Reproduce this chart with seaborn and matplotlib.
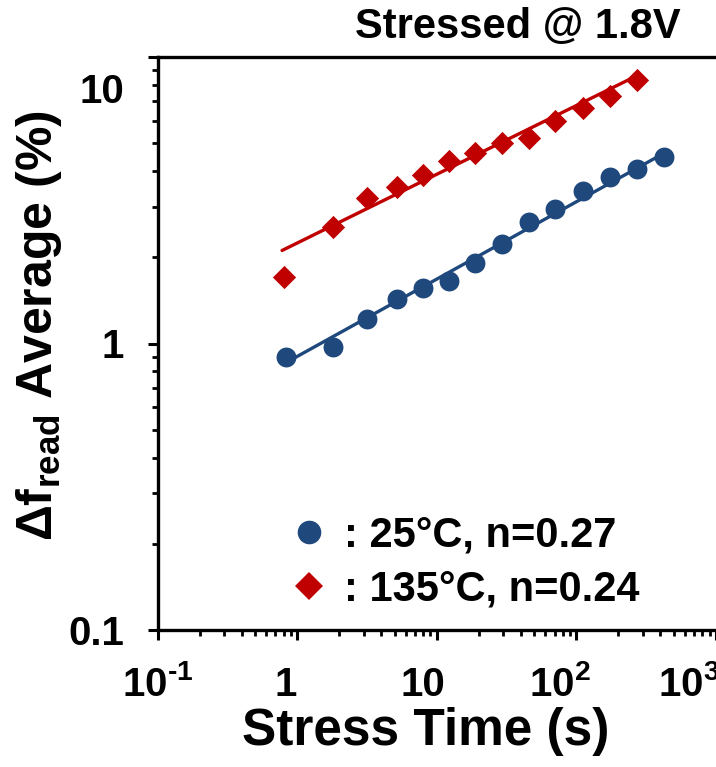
import numpy as np
import pandas as pd
import seaborn as sns
import matplotlib
matplotlib.use("Agg")
import matplotlib.pyplot as plt
from matplotlib.lines import Line2D
from matplotlib.transforms import ScaledTranslation
from matplotlib.ticker import FixedLocator, FixedFormatter, LogLocator, NullFormatter

# ---------------- data ----------------
time_25 = [0.83, 1.82, 3.19, 5.15, 8.0, 12.3, 18.9, 29.1, 45.5, 70.7, 111, 174, 272, 425]
delta_25 = [0.90, 0.975, 1.215, 1.43, 1.56, 1.65, 1.91, 2.23, 2.65, 2.94, 3.42, 3.82, 4.06, 4.49]
time_135 = [0.80, 1.82, 3.19, 5.15, 8.0, 12.3, 18.9, 29.1, 45.5, 70.7, 111, 174, 272]
delta_135 = [1.70, 2.56, 3.21, 3.53, 3.87, 4.35, 4.61, 5.02, 5.20, 5.98, 6.65, 7.31, 8.31]
n_25 = 0.27
n_135 = 0.24
labels = [": 25°C, n=0.27", ": 135°C, n=0.24"]
x_ticks = [0.1, 1, 10, 100, 1000]
x_ticklabels = ["$\\mathbf{10^{\u20101}}$", "1", "10", r"$\mathbf{10^{2}}$", r"$\mathbf{10^{3}}$"]
y_ticks = [0.1, 1, 10]
y_ticklabels = ["0.1", "1", "10"]
title = "Stressed @ 1.8V"

BLUE = "#1F497D"
RED = "#C00000"

sns.set_style("ticks")
plt.rcParams["font.family"] = ["Liberation Sans", "DejaVu Sans"]
plt.rcParams["font.weight"] = "bold"
plt.rcParams["mathtext.fontset"] = "custom"
plt.rcParams["mathtext.rm"] = "Liberation Sans:bold"
plt.rcParams["mathtext.bf"] = "Liberation Sans:bold"
plt.rcParams["mathtext.it"] = "Liberation Sans:bold"
plt.rcParams["mathtext.default"] = "bf"
for k in ["text.color", "axes.labelcolor", "xtick.color", "ytick.color",
          "xtick.labelcolor", "ytick.labelcolor", "axes.edgecolor"]:
    plt.rcParams[k] = "black"

df = pd.concat([
    pd.DataFrame({"t": time_25, "d": delta_25, "grp": "25"}),
    pd.DataFrame({"t": time_135, "d": delta_135, "grp": "135"}),
], ignore_index=True)


# power-law fit d = A * t^n with the exponent n from the legend
def fit_line(t_fit, d_fit, n, t_draw):
    lt = np.log10(t_fit)
    ld = np.log10(d_fit)
    b = np.mean(ld - n * lt)
    tt = np.array(t_draw, dtype=float)
    return pd.DataFrame({"t": tt, "d": 10 ** (b + n * np.log10(tt))})


fit25 = fit_line(time_25, delta_25, n_25, time_25)
t135_draw = [0.78] + time_135[1:]
fit135 = fit_line(time_135[1:], delta_135[1:], n_135, t135_draw)

W, H = 716, 767
x0, x1, y0, y1 = 157.5, 716, 630, 57   # axes box in pixels
fig = plt.figure(figsize=(W / 100, H / 100), dpi=100)
ax = fig.add_axes([x0 / W, 1 - y0 / H, (x1 - x0) / W, (y0 - y1) / H])

sns.lineplot(data=fit25, x="t", y="d", ax=ax, color=BLUE, lw=2.4, estimator=None, zorder=2)
sns.lineplot(data=fit135, x="t", y="d", ax=ax, color=RED, lw=2.4, estimator=None, zorder=2)
sns.scatterplot(data=df[df.grp == "25"], x="t", y="d", ax=ax, color=BLUE, marker="o",
                s=205, linewidth=0, zorder=3, legend=False)
sns.scatterplot(data=df[df.grp == "135"], x="t", y="d", ax=ax, color=RED, marker="D",
                s=140, linewidth=0, zorder=3, legend=False)

ax.set_xscale("log")
ax.set_yscale("log")
ax.set_xlim(0.1, 1000)
ax.set_ylim(0.1, 10)

ax.xaxis.set_major_locator(FixedLocator(x_ticks))
ax.xaxis.set_major_formatter(FixedFormatter(x_ticklabels))
ax.yaxis.set_major_locator(FixedLocator(y_ticks))
ax.yaxis.set_major_formatter(FixedFormatter(y_ticklabels))
ax.xaxis.set_minor_locator(LogLocator(base=10, subs=np.arange(2, 10)))
ax.yaxis.set_minor_locator(LogLocator(base=10, subs=np.arange(2, 10)))
ax.xaxis.set_minor_formatter(NullFormatter())
ax.yaxis.set_minor_formatter(NullFormatter())

ax.tick_params(which="major", direction="out", length=7, width=2.2, color="black",
               labelsize=29, labelcolor="black")
ax.tick_params(which="minor", direction="out", length=4.5, width=2.0, color="black")
ax.tick_params(axis="y", which="major", pad=17)
ax.tick_params(axis="x", which="major", pad=40.5)

for side in ["left", "bottom", "top"]:
    ax.spines[side].set_linewidth(2.4)
    ax.spines[side].set_color("black")
ax.spines["right"].set_visible(False)

ax.set_xlabel("Stress Time (s)", fontsize=37, fontweight="bold", color="black")
ax.set_ylabel(r"Δf$_{\mathbf{read}}$ Average (%)", fontsize=36, fontweight="bold", color="black")
ax.xaxis.set_label_coords(0.481, -0.135)
ax.yaxis.set_label_coords(-0.168, 0.532)

# tick label placement tweaks
xshift = [0, -11, -14, -16, -27]
for lab, s in zip(ax.get_xticklabels(), xshift):
    lab.set_va("baseline")
    lab.set_transform(lab.get_transform() + ScaledTranslation(s / 100, 0, fig.dpi_scale_trans))
for lab in ax.get_yticklabels():
    if lab.get_text() == "10":
        lab.set_transform(lab.get_transform() + ScaledTranslation(0, -31 / 100, fig.dpi_scale_trans))

handles = [
    Line2D([], [], marker="o", color=BLUE, ls="none", markersize=17, markeredgewidth=0),
    Line2D([], [], marker="D", color=RED, ls="none", markersize=14, markeredgewidth=0),
]
ax.legend(handles, labels, loc="upper left", bbox_to_anchor=(0.2415, 0.2), frameon=False,
          handlelength=0.8, handletextpad=0.45, labelspacing=0.33, borderpad=0,
          borderaxespad=0, prop={"weight": "bold", "size": 30})

fig.text(518 / 716, 1 - 27 / 767, title, ha="center", va="center", fontsize=30,
         fontweight="bold", color="black")

fig.savefig("out.png", dpi=100)
